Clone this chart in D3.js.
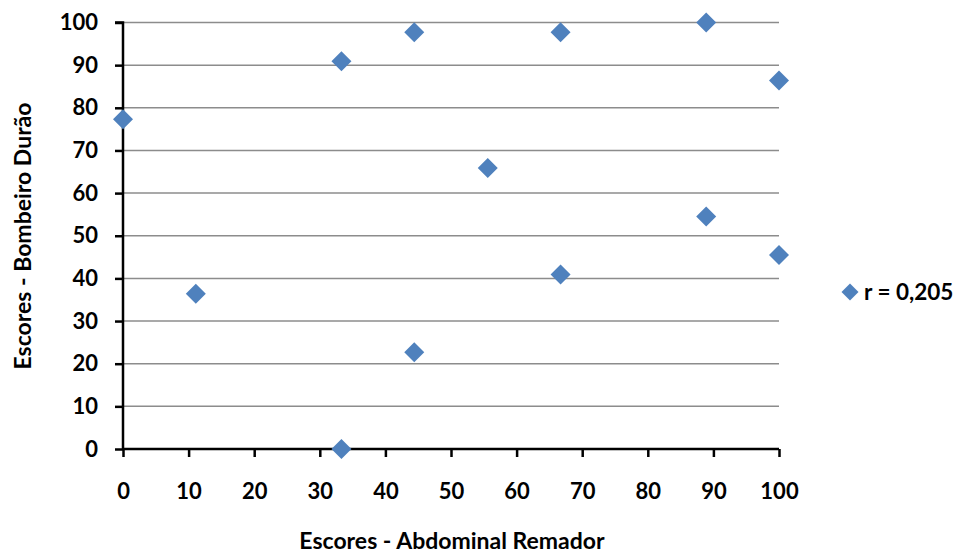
<!DOCTYPE html>
<html>
<head>
<meta charset="utf-8">
<script src="https://cdn.jsdelivr.net/npm/d3@7"></script>
<style>
body { margin: 0; background: #fff; }
text { font-family: Lato, "Open Sans", sans-serif; font-weight: bold; fill: #000; }
</style>
</head>
<body>
<script>
var abdominal = [0, 11.1, 33.3, 33.3, 44.4, 44.4, 55.6, 66.7, 66.7, 88.9, 88.9, 100, 100];
var bombeiro = [77.3, 36.4, 90.9, 0, 97.7, 22.7, 65.9, 97.7, 40.9, 100, 54.5, 86.4, 45.5];
var ticks = [0, 10, 20, 30, 40, 50, 60, 70, 80, 90, 100];
var serieNome = "r = 0,205";

function graficar(){
    var w = 965, h = 555;
    var cor = "#4f81bd";

    var svg = d3.select("body").append("svg")
        .attr("width", w)
        .attr("height", h);

    var x = d3.scaleLinear().domain([0, 100]).range([123, 779]);
    var y = d3.scaleLinear().domain([0, 100]).range([449, 22.5]);

    // linhas de grade
    svg.selectAll("line.grade")
        .data(ticks.filter(function(d){ return d > 0; }))
        .enter().append("line")
        .attr("class", "grade")
        .attr("x1", x(0)).attr("x2", x(100))
        .attr("y1", function(d){ return y(d); })
        .attr("y2", function(d){ return y(d); })
        .attr("stroke", "#8c8c8c")
        .attr("stroke-width", 1.5);

    var eixoX = svg.append("g")
        .attr("transform", "translate(0," + y(0) + ")")
        .call(d3.axisBottom(x).tickValues(ticks).tickSize(8).tickPadding(26));

    var eixoY = svg.append("g")
        .attr("transform", "translate(" + x(0) + ",0)")
        .call(d3.axisLeft(y).tickValues(ticks).tickSize(8).tickPadding(17));

    [eixoX, eixoY].forEach(function(g){
        g.select(".domain").attr("stroke", "#000").attr("stroke-width", 2.5);
        g.selectAll(".tick line").attr("stroke", "#000").attr("stroke-width", 2.5);
        g.selectAll(".tick text").style("font-size", "22px").style("font-family", "Lato, sans-serif").style("font-weight", "bold").attr("fill", "#000");
    });
    eixoY.select(".domain").attr("d", "M-8," + y(100) + "H0V" + y(0));
    eixoX.select(".domain").attr("d", "M" + x(0) + ",0H" + x(100));

    var diamante = d3.symbol().type(d3.symbolSquare).size(200);

    svg.selectAll("path.ponto")
        .data(abdominal)
        .enter().append("path")
        .attr("class", "ponto")
        .attr("d", diamante)
        .attr("transform", function(d, i){
            return "translate(" + x(d) + "," + y(bombeiro[i]) + ") rotate(45)";
        })
        .attr("fill", cor);

    // legenda
    svg.append("path")
        .attr("d", d3.symbol().type(d3.symbolSquare).size(144))
        .attr("transform", "translate(850,292) rotate(45)")
        .attr("fill", cor);
    svg.append("text")
        .text(serieNome)
        .attr("x", 864)
        .attr("y", 300)
        .style("font-size", "22.5px");

    svg.append("text")
        .text("Escores - Abdominal Remador")
        .attr("x", 452)
        .attr("y", 549)
        .attr("text-anchor", "middle")
        .style("font-size", "23px");

    svg.append("text")
        .text("Escores - Bombeiro Durão")
        .attr("transform", "translate(31,236) rotate(-90)")
        .attr("text-anchor", "middle")
        .style("font-size", "23px");
}

graficar();
</script>
</body>
</html>
